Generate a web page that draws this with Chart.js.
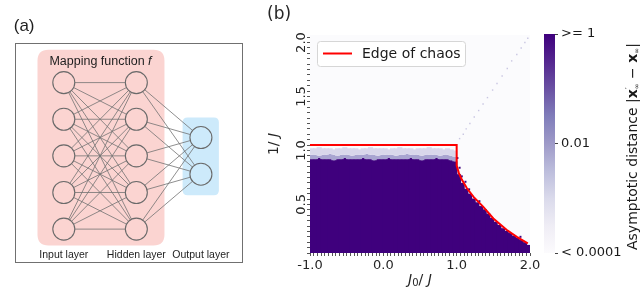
<!DOCTYPE html>
<html>
<head>
<meta charset="utf-8">
<title>Mapping function / edge of chaos</title>
<script src="https://cdn.jsdelivr.net/npm/chart.js@4.4.1/dist/chart.umd.min.js"></script>
<style>
  html, body { margin: 0; padding: 0; background: #fff; }
  #fig { position: relative; width: 640px; height: 287px; overflow: hidden; }
  #fig canvas { position: absolute; top: 0; }
</style>
</head>
<body>
<div id="fig">
  <canvas id="net" width="260" height="287" style="left:0;width:260px;height:287px"></canvas>
  <canvas id="heat" width="290" height="287" style="left:260px;width:290px;height:287px"></canvas>
  <canvas id="cbar" width="100" height="287" style="left:540px;width:100px;height:287px"></canvas>
</div>
<script>
// panel (a) - the network, in layer / row units
var layerX = [0, 1, 1.89];
var inputRows = [0, 1, 2, 3, 4];
var hiddenRows = [0, 1, 2, 3, 4];
var outputRows = [1.5, 2.5];
var layerNames = ['Input layer', 'Hidden layer', 'Output layer'];

// panel (b) - heatmap columns (J0/J) and where each colour band ends (1/J)
var cellX = [-0.975, -0.925, -0.875, -0.825, -0.775, -0.725, -0.675, -0.625, -0.575, -0.525,
             -0.475, -0.425, -0.375, -0.325, -0.275, -0.225, -0.175, -0.125, -0.075, -0.025,
              0.025,  0.075,  0.125,  0.175,  0.225,  0.275,  0.325,  0.375,  0.425,  0.475,
              0.525,  0.575,  0.625,  0.675,  0.725,  0.775,  0.825,  0.875,  0.925,  0.975,
              1.025,  1.075,  1.125,  1.175,  1.225,  1.275,  1.325,  1.375,  1.425,  1.475,
              1.525,  1.575,  1.625,  1.675,  1.725,  1.775,  1.825,  1.875,  1.925,  1.975];
var cellBottom = 0.05;
var darkTop = [0.92, 0.92, 0.93, 0.92, 0.92, 0.92, 0.91, 0.92, 0.92, 0.93,
               0.92, 0.92, 0.92, 0.92, 0.93, 0.92, 0.92, 0.91, 0.92, 0.92,
               0.92, 0.93, 0.92, 0.92, 0.92, 0.92, 0.92, 0.93, 0.92, 0.92,
               0.91, 0.92, 0.92, 0.92, 0.93, 0.92, 0.92, 0.92, 0.91, 0.90,
               0.78, 0.70, 0.645, 0.60, 0.555, 0.52, 0.485, 0.455, 0.415, 0.375,
               0.34, 0.31, 0.28, 0.255, 0.235, 0.21, 0.19, 0.17, 0.15, 0.125];
var bandMid = [0.96, 0.96, 0.95, 0.96, 0.96, 0.97, 0.96, 0.95, 0.96, 0.96,
               0.96, 0.95, 0.96, 0.96, 0.96, 0.97, 0.96, 0.96, 0.95, 0.96,
               0.96, 0.96, 0.96, 0.95, 0.96, 0.96, 0.97, 0.96, 0.96, 0.96,
               0.95, 0.96, 0.96, 0.96, 0.96, 0.95, 0.96, 0.96, 0.95, 0.94];
var bandTop = [1.02, 1.02, 1.03, 1.02, 1.02, 1.02, 1.01, 1.02, 1.02, 1.03,
               1.02, 1.02, 1.02, 1.01, 1.02, 1.02, 1.03, 1.02, 1.02, 1.02,
               1.02, 1.01, 1.02, 1.02, 1.03, 1.02, 1.02, 1.02, 1.01, 1.02,
               1.02, 1.02, 1.03, 1.02, 1.02, 1.02, 1.01, 1.02, 1.01, 1.00];

// edge of chaos (red line)
var edgeX = [-1.0, 1.0, 1.0, 1.03, 1.07, 1.14, 1.23, 1.36, 1.5, 1.68, 1.82, 1.97];
var edgeY = [1.05, 1.05, 0.86, 0.79, 0.73, 0.65, 0.57, 0.48, 0.37, 0.265, 0.20, 0.14];

// faint diagonal cells and a few stray dark cells
var diagX = [1.04, 1.09, 1.13, 1.18, 1.24, 1.30, 1.36, 1.42, 1.49, 1.55, 1.62, 1.69, 1.75, 1.82, 1.88, 1.93, 1.97];
var diagY = [1.11, 1.15, 1.20, 1.25, 1.31, 1.37, 1.43, 1.49, 1.56, 1.62, 1.69, 1.76, 1.83, 1.89, 1.95, 2.00, 2.04];
var strayX = [1.01, 1.04, 1.07, 1.12, 1.17, 1.31, 1.87];
var strayY = [0.93, 0.84, 0.76, 0.71, 0.64, 0.53, 0.20];

var xTickValues = [-1, 0, 1, 2];
var yTickValues = [0.5, 1.0, 1.5, 2.0];
var cbTicks = [0.0001, 0.01, 1];
var cbLabels = ['< 0.0001', '0.01', '>= 1'];
var purples = ['#fcfbfd', '#efedf5', '#dadaeb', '#bcbddc', '#9e9ac8', '#807dba', '#6a51a3', '#54278f', '#3f007d'];

Chart.defaults.font.family = '"DejaVu Sans"';
Chart.defaults.animation = false;

// draws a row of text pieces with different fonts, left to right
function drawRuns(c, runs, x, y, center) {
  var w = 0;
  runs.forEach(function (r) { c.font = r.font; w += c.measureText(r.t).width + (r.adv || 0); });
  var cx = center ? x - w / 2 : x;
  c.textAlign = 'left';
  runs.forEach(function (r) {
    c.font = r.font;
    c.fillText(r.t, cx, y + (r.dy || 0));
    cx += c.measureText(r.t).width + (r.adv || 0);
  });
}

function roundBox(c, x0, y0, x1, y1, r) {
  c.beginPath();
  c.moveTo(x0 + r, y0);
  c.lineTo(x1 - r, y0); c.quadraticCurveTo(x1, y0, x1, y0 + r);
  c.lineTo(x1, y1 - r); c.quadraticCurveTo(x1, y1, x1 - r, y1);
  c.lineTo(x0 + r, y1); c.quadraticCurveTo(x0, y1, x0, y1 - r);
  c.lineTo(x0, y0 + r); c.quadraticCurveTo(x0, y0, x0 + r, y0);
  c.closePath();
}

// ---------- (a) ----------
var nodes = [];
inputRows.forEach(function (r) { nodes.push({x: layerX[0], y: r, layer: 0}); });
hiddenRows.forEach(function (r) { nodes.push({x: layerX[1], y: r, layer: 1}); });
outputRows.forEach(function (r) { nodes.push({x: layerX[2], y: r, layer: 2}); });

var links = [];
inputRows.forEach(function (a) {
  hiddenRows.forEach(function (b) {
    links.push({x: layerX[0], y: a}, {x: layerX[1], y: b}, {x: layerX[1], y: null});
  });
});
hiddenRows.forEach(function (a) {
  outputRows.forEach(function (b) {
    links.push({x: layerX[1], y: a}, {x: layerX[2], y: b}, {x: layerX[2], y: null});
  });
});

var pink = '#fbd4d1', blue = '#cdeafb';

var netDeco = {
  id: 'netDeco',
  beforeDatasetsDraw: function (chart) {
    var c = chart.ctx, xs = chart.scales.x, ys = chart.scales.y;
    var X = function (u) { return xs.getPixelForValue(u); };
    var Y = function (u) { return ys.getPixelForValue(u); };
    c.save();
    c.strokeStyle = '#707070'; c.lineWidth = 1;
    c.strokeRect(Math.round(X(-0.675)) + 0.5, Math.round(Y(-1.075)) + 0.5,
                 Math.round(X(2.45) - X(-0.675)), Math.round(Y(4.9) - Y(-1.075)));
    c.fillStyle = pink;
    roundBox(c, X(-0.3625), Y(-0.9), X(1.3875), Y(4.45), 11); c.fill();
    c.fillStyle = blue;
    roundBox(c, X(1.6375), Y(0.95), X(2.1375), Y(3.075), 5); c.fill();
    c.restore();
  },
  afterDatasetsDraw: function (chart) {
    var c = chart.ctx, xs = chart.scales.x, ys = chart.scales.y;
    c.save();
    c.fillStyle = '#1e1e1e';
    c.textBaseline = 'alphabetic';
    drawRuns(c, [{t: 'Mapping function ', font: '12.5px "Liberation Sans"'},
                 {t: 'f', font: 'italic 12.5px "Liberation Sans"'}],
             xs.getPixelForValue(0.506), ys.getPixelForValue(-0.475), true);
    layerNames.forEach(function (name, i) {
      drawRuns(c, [{t: name, font: '10.5px "Liberation Sans"'}],
               xs.getPixelForValue(layerX[i]), ys.getPixelForValue(4.8), true);
    });
    drawRuns(c, [{t: '(a)', font: '17px "Liberation Sans"'}],
             xs.getPixelForValue(-0.69), ys.getPixelForValue(-1.4), false);
    c.restore();
  }
};

new Chart(document.getElementById('net'), {
  type: 'scatter',
  data: {
    datasets: [
      {
        label: 'nodes', data: nodes, order: 0,
        pointRadius: 11, pointHoverRadius: 11, pointStyle: 'circle',
        borderColor: '#6a6a6a', borderWidth: 1.1,
        backgroundColor: function (ctx) { return ctx.raw && ctx.raw.layer === 2 ? blue : pink; }
      },
      {
        type: 'line', label: 'links', data: links, order: 1,
        borderColor: '#727272', borderWidth: 0.8, pointRadius: 0, fill: false, spanGaps: false
      }
    ]
  },
  options: {
    responsive: false, events: [],
    layout: {padding: 0},
    plugins: {legend: {display: false}, tooltip: {enabled: false}},
    scales: {
      x: {type: 'linear', display: false, min: -0.7125, max: 2.5375},
      y: {type: 'linear', display: false, reverse: true, min: -1.925, max: 5.25}
    }
  },
  plugins: [netDeco]
});

// ---------- (b) heatmap ----------
function cols(lo, hi, n) {
  return cellX.slice(0, n).map(function (x, i) { return {x: x, y: [lo[i], hi[i]]}; });
}
var bottoms = cellX.map(function () { return cellBottom; });

var heatDeco = {
  id: 'heatDeco',
  beforeDatasetsDraw: function (chart) {
    var a = chart.chartArea, c = chart.ctx;
    c.save();
    c.fillStyle = '#fbfbfd';
    c.fillRect(a.left, a.top, a.right - a.left, a.bottom - a.top);
    c.restore();
  },
  afterDraw: function (chart) {
    var c = chart.ctx, a = chart.chartArea, ys = chart.scales.y;
    c.save();
    c.fillStyle = '#262626';
    c.textBaseline = 'alphabetic';
    // rotated y tick labels
    yTickValues.forEach(function (v) {
      c.save();
      c.translate(a.left - 5, ys.getPixelForValue(v));
      c.rotate(-Math.PI / 2);
      drawRuns(c, [{t: v.toFixed(1), font: '13px "DejaVu Sans"'}], 0, 0, true);
      c.restore();
    });
    // y title 1/J
    c.save();
    c.translate(18, (a.top + a.bottom) / 2);
    c.rotate(-Math.PI / 2);
    drawRuns(c, [{t: '1/ ', font: '14px "DejaVu Sans"'}, {t: 'J', font: 'italic 14px "DejaVu Sans"'}], 0, 0, true);
    c.restore();
    // x title J0/J
    drawRuns(c, [{t: 'J', font: 'italic 14px "DejaVu Sans"'},
                 {t: '0', font: '10px "DejaVu Sans"', dy: 2},
                 {t: '/ ', font: '14px "DejaVu Sans"'},
                 {t: 'J', font: 'italic 14px "DejaVu Sans"'}], (a.left + a.right) / 2, 284, true);
    // panel letter
    drawRuns(c, [{t: '(b)', font: '17px "DejaVu Sans"'}], 7, 19, false);
    // legend
    var ds = chart.data.datasets[0];
    c.fillStyle = 'rgba(255,255,255,0.85)';
    c.strokeStyle = '#d6d6d6'; c.lineWidth = 1;
    roundBox(c, 57.5, 41.5, 205.5, 66.5, 3); c.fill(); c.stroke();
    c.strokeStyle = ds.borderColor; c.lineWidth = 2;
    c.beginPath(); c.moveTo(63, 53.5); c.lineTo(92, 53.5); c.stroke();
    c.fillStyle = '#1a1a1a';
    drawRuns(c, [{t: ds.label, font: '14px "DejaVu Sans"'}], 102, 58, false);
    c.restore();
  }
};

new Chart(document.getElementById('heat'), {
  type: 'bar',
  data: {
    datasets: [
      {
        type: 'line', label: 'Edge of chaos', order: 0,
        data: edgeX.map(function (x, i) { return {x: x, y: edgeY[i]}; }),
        borderColor: '#ff0000', borderWidth: 2, pointRadius: 0, fill: false, tension: 0
      },
      {
        type: 'scatter', label: 'stray', order: 1,
        data: strayX.map(function (x, i) { return {x: x, y: strayY[i]}; }),
        pointStyle: 'rect', pointRadius: 1.4, borderWidth: 0, backgroundColor: '#3f007d'
      },
      {
        type: 'scatter', label: 'diagonal', order: 2,
        data: diagX.map(function (x, i) { return {x: x, y: diagY[i]}; }),
        pointStyle: 'rect', pointRadius: 1, borderWidth: 0, backgroundColor: '#c9c6e2'
      },
      {
        label: 'light band', order: 3, grouped: false,
        data: cols(bandMid, bandTop, bandTop.length),
        backgroundColor: '#d9d7eb', borderWidth: 0, barPercentage: 1.4, categoryPercentage: 1
      },
      {
        label: 'mid band', order: 4, grouped: false,
        data: cols(darkTop, bandMid, bandMid.length),
        backgroundColor: '#a9a5d1', borderWidth: 0, barPercentage: 1.4, categoryPercentage: 1
      },
      {
        label: 'ordered', order: 5, grouped: false,
        data: cols(bottoms, darkTop, darkTop.length),
        backgroundColor: '#3f007d', borderWidth: 0, barPercentage: 1.4, categoryPercentage: 1
      }
    ]
  },
  options: {
    responsive: false, events: [],
    layout: {padding: {left: 0, right: 20, top: 35, bottom: 0}},
    plugins: {legend: {display: false}, tooltip: {enabled: false}},
    scales: {
      x: {
        type: 'linear', min: -1, max: 2, offset: false,
        afterFit: function (s) { s.height = 34; },
        border: {display: false},
        grid: {offset: false, drawOnChartArea: false, drawTicks: true, tickLength: 3, color: '#555'},
        ticks: {
          stepSize: 0.05, autoSkip: false, maxRotation: 0, padding: 2, color: '#262626',
          font: {size: 13},
          callback: function (v) {
            for (var i = 0; i < xTickValues.length; i++) {
              if (Math.abs(v - xTickValues[i]) < 1e-6) return xTickValues[i].toFixed(1);
            }
            return '';
          }
        }
      },
      y: {
        type: 'linear', min: 0.05, max: 2.07,
        afterFit: function (s) { s.width = 50; },
        afterBuildTicks: function (s) {
          var t = [];
          for (var v = 0.05; v < 2.06; v += 0.05) t.push({value: Math.round(v * 100) / 100});
          s.ticks = t;
        },
        border: {display: false},
        grid: {drawOnChartArea: false, drawTicks: true, tickLength: 3, color: '#555'},
        ticks: {display: false}
      }
    }
  },
  plugins: [heatDeco]
});

// ---------- (b) colour bar ----------
var cbDeco = {
  id: 'cbDeco',
  afterDraw: function (chart) {
    var c = chart.ctx;
    c.save();
    c.fillStyle = '#1a1a1a';
    c.textBaseline = 'alphabetic';
    c.translate(97, 250);
    c.rotate(-Math.PI / 2);
    drawRuns(c, [
      {t: 'Asymptotic distance |', font: '14px "DejaVu Sans"'},
      {t: 'x', font: 'bold 14px "DejaVu Sans"'},
      {t: '\u2032', font: '9px "DejaVu Sans"', dy: -5, adv: -2},
      {t: '\u221e', font: '7px "DejaVu Sans"', dy: 2},
      {t: ' \u2212 ', font: '14px "DejaVu Sans"'},
      {t: 'x', font: 'bold 14px "DejaVu Sans"'},
      {t: '\u221e', font: '7px "DejaVu Sans"', dy: 2},
      {t: '|', font: '14px "DejaVu Sans"'}
    ], 0, 0, false);
    c.restore();
  }
};

new Chart(document.getElementById('cbar'), {
  type: 'bar',
  data: {
    labels: ['cb'],
    datasets: [{
      data: [[cbTicks[0], cbTicks[cbTicks.length - 1]]],
      borderWidth: 0, barPercentage: 1, categoryPercentage: 1,
      backgroundColor: function (ctx) {
        var a = ctx.chart.chartArea;
        if (!a) return purples[4];
        var g = ctx.chart.ctx.createLinearGradient(0, a.bottom, 0, a.top);
        purples.forEach(function (col, i) { g.addColorStop(i / (purples.length - 1), col); });
        return g;
      }
    }]
  },
  options: {
    responsive: false, events: [],
    layout: {padding: {left: 4, right: 0, top: 34, bottom: 34}},
    plugins: {legend: {display: false}, tooltip: {enabled: false}},
    scales: {
      x: {display: false},
      y: {
        type: 'logarithmic', position: 'right', min: 0.0001, max: 1,
        afterFit: function (s) { s.width = 85; },
        afterBuildTicks: function (s) { s.ticks = cbTicks.map(function (v) { return {value: v}; }); },
        border: {display: false},
        grid: {drawOnChartArea: false, drawTicks: true, tickLength: 3, color: '#444'},
        ticks: {
          autoSkip: false, padding: 3, color: '#1a1a1a', font: {size: 13},
          callback: function (v, i) { return cbLabels[i]; }
        }
      }
    }
  },
  plugins: [cbDeco]
});
</script>
</body>
</html>
